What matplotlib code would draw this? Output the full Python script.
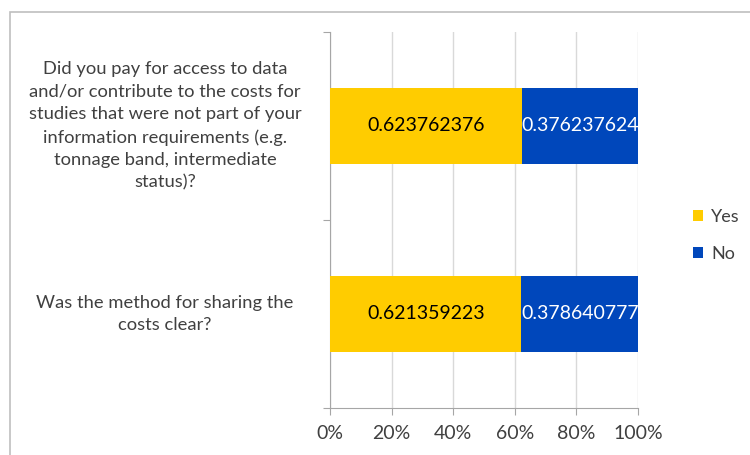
import matplotlib.pyplot as plt
from matplotlib.patches import Rectangle
from matplotlib.ticker import PercentFormatter

# -------------------------------------------------
# Data
# -------------------------------------------------

questions = [
    "Did you pay for access to data\nand/or contribute to the costs for\nstudies that were not part of your\ninformation requirements (e.g.\ntonnage band, intermediate\nstatus)?",
    "Was the method for sharing the\ncosts clear?",
]
yes_share = [0.623762376, 0.621359223]
no_share = [0.376237624, 0.378640777]
series_names = ["Yes", "No"]

YELLOW = "#FFCC00"
BLUE = "#0047BB"
GRID = "#D9D9D9"
TEXT = "#404040"

plt.rcParams["font.family"] = ["Lato", "DejaVu Sans"]

fig = plt.figure(figsize=(7.5, 4.55), dpi=100)
ax = fig.add_axes([0.44, 0.1033, 0.4107, 0.8264])

pos = [0.5 + i for i in range(len(questions))]
ax.barh(pos, yes_share, height=0.4, color=YELLOW, label=series_names[0], zorder=3)
ax.barh(pos, no_share, left=yes_share, height=0.4, color=BLUE, label=series_names[1], zorder=3)

# value labels inside the bars
for p, y, n in zip(pos, yes_share, no_share):
    ax.text(y / 2, p, f"{y:.9f}", ha="center", va="center", fontsize=14, color="black", zorder=4)
    ax.text(y + n / 2, p, f"{n:.9f}", ha="center", va="center", fontsize=14, color="white", zorder=4)

ax.set_xlim(0, 1)
ax.set_ylim(2, 0)
ax.set_xticks([0, 0.2, 0.4, 0.6, 0.8, 1.0])
ax.xaxis.set_major_formatter(PercentFormatter(1.0, decimals=0))
ax.set_yticks([0, 1, 2])
ax.set_yticklabels([])

# category labels, centred in the space left of the axis
for p, q in zip(pos, questions):
    ax.text(-0.536, p, q, ha="center", va="center", fontsize=13.2, color=TEXT,
            transform=ax.get_yaxis_transform(), linespacing=1.5)

ax.grid(axis="x", color=GRID, linewidth=1, zorder=0)
for s in ["top", "right"]:
    ax.spines[s].set_visible(False)
for s in ["left", "bottom"]:
    ax.spines[s].set_color("#A6A6A6")
ax.tick_params(axis="both", colors="#A6A6A6", length=5, labelcolor=TEXT, labelsize=14)
ax.tick_params(axis="x", pad=7)

fig.legend(loc="center left", bbox_to_anchor=(0.924, 0.482), frameon=False,
           borderpad=0, borderaxespad=0,
           handlelength=0.55, handleheight=0.55, handletextpad=0.45,
           labelspacing=1.15, fontsize=13, labelcolor=TEXT)

# chart frame
fig.patches.append(Rectangle((10 / 750, -0.05), 1.0, 1 - 12 / 455 + 0.05,
                             transform=fig.transFigure, fill=False,
                             edgecolor="#BFBFBF", linewidth=1.2))

fig.savefig("out.png", dpi=100)
